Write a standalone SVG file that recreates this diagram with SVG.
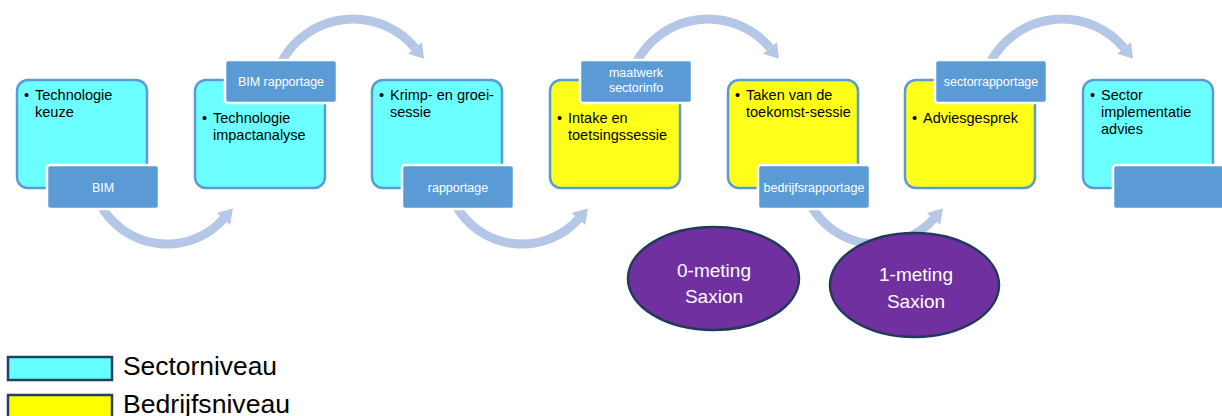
<svg xmlns="http://www.w3.org/2000/svg" width="1222" height="416" viewBox="0 0 1222 416">
<defs>
<marker id="ah" markerUnits="userSpaceOnUse" markerWidth="16" markerHeight="22" refX="0" refY="11" orient="auto" overflow="visible">
<path d="M0,2 L14,11 L0,20 z" fill="#B4C7E7"/>
</marker>
<style>
.arc{fill:none;stroke:#B4C7E7;stroke-width:9;marker-end:url(#ah)}
.sec{fill:#6CFFFF;stroke:#5B9BD5;stroke-width:2.5}
.bed{fill:#FFFF19;stroke:#5B9BD5;stroke-width:2.5}
.lab{fill:#5B9BD5;stroke:#FFFFFF;stroke-width:2.5}
.t{font-family:"Liberation Sans",Arial,sans-serif;font-size:14.5px;fill:#000}
.lt{font-family:"Liberation Sans",Arial,sans-serif;font-size:12.5px;fill:#FFFFFF;text-anchor:middle}
.ell{fill:#7030A0;stroke:#1F3A5A;stroke-width:2.5}
.et{font-family:"Liberation Sans",Arial,sans-serif;font-size:19px;fill:#FFFFFF;text-anchor:middle}
.leg{stroke:#243F60;stroke-width:2.5}
.legt{font-family:"Liberation Sans",Arial,sans-serif;font-size:25px;fill:#000}
</style>
</defs>
<rect width="1222" height="416" fill="#FFFFFF"/>
<g id="connectors">
<path class="arc" d="M100.6,205 A76,76 0 0 0 223.5,218.9"/>
<path class="arc" d="M281.5,62 A81,81 0 0 1 415.05,47.93"/>
<path class="arc" d="M455.6,205 A76,76 0 0 0 578.5,218.9"/>
<path class="arc" d="M636.5,62 A81,81 0 0 1 770.05,47.93"/>
<path class="arc" d="M810.6,205 A76,76 0 0 0 933.5,218.9"/>
<path class="arc" d="M990.5,62 A81,81 0 0 1 1124.05,47.93"/>
</g>
<g id="node1">
<rect class="sec" x="17" y="80" width="130" height="108" rx="11"/>
<text class="t"><tspan x="24" y="100">•</tspan><tspan x="35" y="100">Technologie</tspan><tspan x="35" y="117">keuze</tspan></text>
<rect class="lab" x="47" y="165" width="112" height="44" rx="3"/>
<text class="lt" x="103" y="191.5">BIM</text>
</g>
<g id="node2">
<rect class="sec" x="195" y="80" width="130" height="108" rx="11"/>
<text class="t"><tspan x="202" y="123">•</tspan><tspan x="213" y="123">Technologie</tspan><tspan x="213" y="140">impactanalyse</tspan></text>
<rect class="lab" x="225" y="60" width="112" height="43" rx="3"/>
<text class="lt" x="281" y="86">BIM rapportage</text>
</g>
<g id="node3">
<rect class="sec" x="372" y="80" width="130" height="108" rx="11"/>
<text class="t"><tspan x="379" y="100">•</tspan><tspan x="390" y="100">Krimp- en groei-</tspan><tspan x="390" y="117">sessie</tspan></text>
<rect class="lab" x="402" y="165" width="112" height="44" rx="3"/>
<text class="lt" x="458" y="191.5">rapportage</text>
</g>
<g id="node4">
<rect class="bed" x="550" y="80" width="130" height="108" rx="11"/>
<text class="t"><tspan x="557" y="123">•</tspan><tspan x="568" y="123">Intake en</tspan><tspan x="568" y="140">toetsingssessie</tspan></text>
<rect class="lab" x="580" y="60" width="112" height="43" rx="3"/>
<text class="lt"><tspan x="636" y="77">maatwerk</tspan><tspan x="636" y="92">sectorinfo</tspan></text>
</g>
<g id="node5">
<rect class="bed" x="728" y="80" width="130" height="108" rx="11"/>
<text class="t"><tspan x="735" y="100">•</tspan><tspan x="746" y="100">Taken van de</tspan><tspan x="746" y="117">toekomst-sessie</tspan></text>
<rect class="lab" x="758" y="165" width="112" height="44" rx="3"/>
<text class="lt" x="814" y="191.5">bedrijfsrapportage</text>
</g>
<g id="node6">
<rect class="bed" x="905" y="80" width="130" height="108" rx="11"/>
<text class="t"><tspan x="912" y="123">•</tspan><tspan x="923" y="123">Adviesgesprek</tspan></text>
<rect class="lab" x="935" y="60" width="112" height="43" rx="3"/>
<text class="lt" x="991" y="86">sectorrapportage</text>
</g>
<g id="node7">
<rect class="sec" x="1083" y="80" width="130" height="108" rx="11"/>
<text class="t"><tspan x="1090" y="100">•</tspan><tspan x="1101" y="100">Sector</tspan><tspan x="1101" y="117">implementatie</tspan><tspan x="1101" y="134">advies</tspan></text>
<rect class="lab" x="1113" y="165" width="112" height="44" rx="3"/>
</g>
<g id="meting0">
<ellipse class="ell" cx="713.5" cy="278.5" rx="85.5" ry="51.5"/>
<text class="et"><tspan x="714" y="277">0-meting</tspan><tspan x="714" y="303">Saxion</tspan></text>
</g>
<g id="meting1">
<ellipse class="ell" cx="914.5" cy="285" rx="84.5" ry="52"/>
<text class="et"><tspan x="916" y="281">1-meting</tspan><tspan x="916" y="308">Saxion</tspan></text>
</g>
<g id="legend">
<rect class="leg" x="8" y="357" width="104" height="23" fill="#66FFFF"/>
<text class="legt" x="123" y="375" textLength="154" lengthAdjust="spacingAndGlyphs">Sectorniveau</text>
<rect class="leg" x="8" y="395" width="104" height="23" fill="#FFFF00"/>
<text class="legt" x="123" y="413" textLength="167" lengthAdjust="spacingAndGlyphs">Bedrijfsniveau</text>
</g>
</svg>
